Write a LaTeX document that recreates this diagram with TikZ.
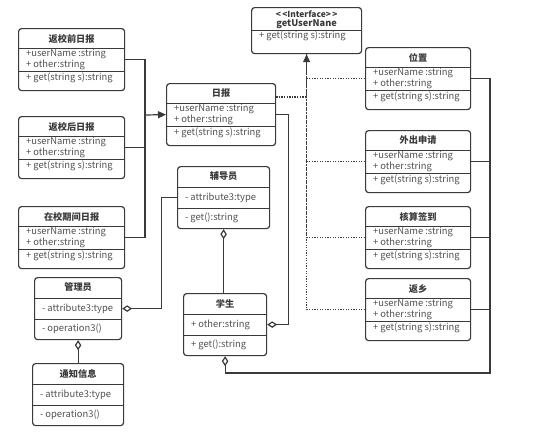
\documentclass[tikz,border=0pt]{standalone}
\usepackage{fontspec}
\setmainfont{Noto Sans CJK SC}
\usepackage{tikz}
\usetikzlibrary{arrows.meta, calc, positioning}

\definecolor{ln}{HTML}{3A3A3A}
\definecolor{tx}{HTML}{505050}

% report box: name, x, y, width, title
\newcommand{\rptbox}[5]{%
  \node[cls, minimum width=#4pt, minimum height=62pt] (#1) at (#2,#3) {};
  \draw[dv] ($(#1.north west)+(0,20.5)$) -- ($(#1.north east)+(0,20.5)$);
  \draw[dv] ($(#1.north west)+(0,43.5)$) -- ($(#1.north east)+(0,43.5)$);
  \node[ttl] at ($(#1.north)+(0,10.5)$) {#5};
  \node[txt] at ($(#1.north west)+(7.5,31.5)$) {+userName :string\\+ other:string};
  \node[txt] at ($(#1.north west)+(7.5,49.5)$) {+ get(string s):string};
}
% plain class: name, x, y, width, title, attribute, operation
\newcommand{\plaincls}[7]{%
  \node[cls, minimum width=#4pt, minimum height=62pt] (#1) at (#2,#3) {};
  \draw[dv] ($(#1.north west)+(0,21)$) -- ($(#1.north east)+(0,21)$);
  \draw[dv] ($(#1.north west)+(0,42)$) -- ($(#1.north east)+(0,42)$);
  \node[ttl] at ($(#1.north)+(0,10.5)$) {#5};
  \node[txt] at ($(#1.north west)+(7.5,31.5)$) {#6};
  \node[txt] at ($(#1.north west)+(7.5,52)$) {#7};
}

\begin{document}
\begin{tikzpicture}[
  x=1pt, y=-1pt,
  line width=1.2pt,
  cls/.style={draw=ln, rounded corners=3pt, anchor=north west, inner sep=0pt},
  dv/.style={draw=ln, line width=1pt},
  ttl/.style={font=\fontsize{9.2}{11}\selectfont\bfseries, text=ln, inner sep=0pt},
  txt/.style={font=\fontsize{9.4}{11}\selectfont, text=tx, anchor=west, align=left, inner sep=0pt},
  arr/.style={draw=ln, -{Triangle[length=8pt, width=7pt]}},
  dot/.style={draw=ln, dash pattern=on 1.3pt off 1.3pt},
  agg/.style={draw=ln, {Diamond[open, length=10pt, width=6.5pt]}-},
]
\useasboundingbox (0,0) rectangle (533,432);

% left daily reports
\rptbox{before}{18}{28}{106}{返校前日报}
\rptbox{after}{18}{116}{106}{返校后日报}
\rptbox{during}{18}{206}{106}{在校期间日报}
\rptbox{daily}{166}{83}{109}{日报}

% right reports
\rptbox{loc}{365}{47}{105}{位置}
\rptbox{leave}{365}{130}{105}{外出申请}
\rptbox{check}{365}{206}{105}{核算签到}
\rptbox{home}{365}{278}{105}{返乡}

% interface
\node[cls, minimum width=110pt, minimum height=46pt] (iface) at (251,7) {};
\draw[dv] ($(iface.north west)+(0,23)$) -- ($(iface.north east)+(0,23)$);
\node[ttl, font=\fontsize{8.4}{9}\selectfont\bfseries] at ($(iface.north)+(0,7)$) {{<}\,{<}Interface{>}\,{>}};
\node[ttl] at ($(iface.north)+(0,17.5)$) {getUserNane};
\node[txt] at ($(iface.north west)+(7.5,29)$) {+ get(string s):string};

% other classes
\plaincls{tutor}{177}{166}{92}{辅导员}{- attribute3:type}{- get():string}
\plaincls{admin}{34}{277}{87}{管理员}{- attribute3:type}{- operation3()}
\plaincls{notice}{32}{363}{91}{通知信息}{- attribute3:type}{- operation3()}
\plaincls{stu}{183}{293}{83}{学生}{+ other:string}{+ get():string}

% inheritance to daily report
\coordinate (lbus) at (145,115);
\draw[ln] (before.east) -| (lbus);
\draw[ln] (during.east) -| (lbus);
\draw[ln] (after.east) -- (after.east -| lbus);
\draw[arr] (lbus) -- (daily.west);

% realization of interface
\draw[dot] ($(daily.north east)+(0,14)$) -| (iface.south);
\foreach \n in {loc, leave, check, home}
  \draw[dot] (\n.west) -| (iface.south);
\draw[arr] ($(iface.south)+(0,12)$) -- (iface.south);

% aggregations
\coordinate (rbus) at (490,373);
\draw[agg] (stu.south) |- (rbus) |- (loc.east);
\foreach \n in {leave, check, home}
  \draw[ln] (\n.east) -- (\n.east -| rbus);
\draw[agg] (stu.east) -- ++(21,0) |- (daily.east);
\draw[agg] (tutor.south) -- (tutor.south |- stu.north);
\draw[agg] (admin.east) -- ++(39,0) |- (tutor.west);
\draw[agg] (admin.south) -- (admin.south |- notice.north);
\end{tikzpicture}
\end{document}
